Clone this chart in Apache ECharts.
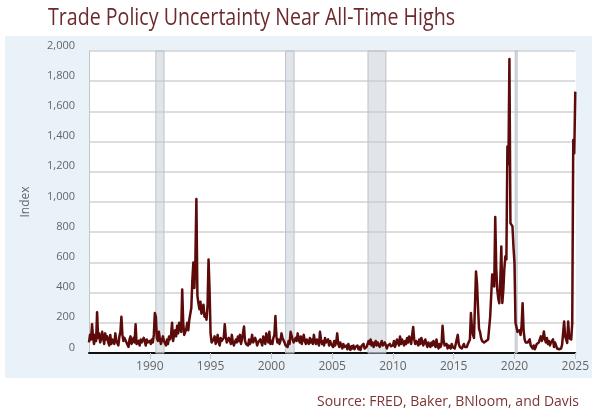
<!DOCTYPE html>
<html>
<head>
<meta charset="utf-8">
<script src="https://cdn.jsdelivr.net/npm/echarts@6/dist/echarts.min.js"></script>
<style>
html,body{margin:0;padding:0;background:#fff;}
#chart{width:592px;height:412px;}
</style>
</head>
<body>
<div id="chart"></div>
<script>
// Monthly Trade Policy Uncertainty index, starting January 1985
const tpu1985to1989 = [
  70,120,90,190,100,60,120,80,270,100,130,70,
  90,140,100,60,130,90,110,70,50,120,60,90,
  100,60,130,80,90,50,110,140,240,120,80,100,
  90,70,60,40,90,110,60,80,100,70,190,60,
  60,80,50,90,70,60,100,80,50,90,70,60
];
const tpu1990to1994 = [
  80,60,90,70,120,265,240,100,80,140,90,60,
  60,110,80,70,50,90,60,110,90,120,200,80,
  120,150,110,180,130,200,160,140,420,200,120,140,
  160,200,150,220,260,300,480,600,430,610,1020,380,
  330,290,340,260,300,320,240,260,220,310,620,420
];
const tpu1995to1999 = [
  130,70,60,90,110,60,80,120,70,50,100,80,
  90,100,190,110,70,60,100,80,60,120,70,50,
  60,90,70,110,80,120,60,90,100,175,80,60,
  70,50,90,60,80,120,70,60,100,80,50,70,
  60,90,70,50,110,80,60,130,90,70,140,60
];
const tpu2000to2004 = [
  80,60,100,120,245,110,70,90,60,80,130,100,
  90,70,50,60,40,80,60,140,130,90,70,60,
  100,80,130,90,70,110,60,90,120,80,60,90,
  80,60,100,70,90,60,120,80,60,90,70,50,
  140,90,60,80,50,100,70,60,90,50,80,60
];
const tpu2005to2009 = [
  60,40,80,50,70,130,60,40,70,50,30,60,
  40,30,50,25,60,35,20,45,30,50,25,40,
  30,50,25,40,20,45,35,60,30,25,40,30,
  80,60,90,50,70,40,60,80,50,70,60,40,
  60,80,50,40,70,60,30,50,40,60,45,50
];
const tpu2010to2014 = [
  50,80,40,60,90,70,50,110,60,90,70,50,
  80,60,100,70,110,90,60,120,172,90,60,80,
  70,50,90,60,100,80,50,70,90,60,40,70,
  60,40,70,50,80,60,40,90,50,30,60,40,
  60,180,90,50,40,60,30,50,40,30,60,40
];
const tpu2015to2019 = [
  40,30,60,50,120,60,40,50,30,45,60,40,
  50,40,60,70,90,265,170,120,100,90,540,460,
  300,160,140,100,80,90,70,60,80,70,90,80,
  240,250,520,470,440,900,560,420,360,330,480,705,
  331,420,560,640,620,1367,1250,1947,860,850,838,700
];
const tpu2020to2025 = [
  595,200,170,140,130,150,120,180,330,150,90,70,
  80,70,60,90,50,40,30,50,25,40,60,70,
  70,90,110,80,100,143,90,70,100,60,80,50,
  70,60,90,40,70,50,30,20,25,15,30,55,
  55,209,110,90,66,209,100,88,90,198,1410,1323,
  1731
];
const startYear = 1985;
// Recession periods (decimal years)
const recessions = [[1990.5, 1991.17], [2001.17, 2001.87], [2007.95, 2009.42], [2020.06, 2020.22]];
const yTicks = [0, 200, 400, 600, 800, 1000, 1200, 1400, 1600, 1800, 2000];
const titleText = 'Trade Policy Uncertainty Near All-Time Highs';
const sourceText = 'Source: FRED, Baker, BNloom, and Davis';

const monthly = [].concat(tpu1985to1989, tpu1990to1994, tpu1995to1999, tpu2000to2004,
  tpu2005to2009, tpu2010to2014, tpu2015to2019, tpu2020to2025);
const seriesData = monthly.map((v, i) => [startYear + i / 12, v]);

function fitScale(text, font, target) {
  const c = document.createElement('canvas').getContext('2d');
  c.font = font;
  return target / c.measureText(text).width;
}
const titleFont = '23px "Open Sans"';
const titleScale = fitScale(titleText, titleFont, 407);
const srcFont = '15px "Open Sans"';
const srcScale = fitScale(sourceText, srcFont, 262);

const chart = echarts.init(document.getElementById('chart'), null, {renderer: 'canvas'});
chart.setOption({
  animation: false,
  backgroundColor: '#ffffff',
  graphic: [
    {type: 'rect', left: 5, top: 36, shape: {width: 587, height: 342}, style: {fill: '#e9f1f9'}, z: -10, silent: true},
    {type: 'rect', left: 89, top: 51, shape: {width: 487, height: 302}, style: {fill: '#ffffff'}, z: -9, silent: true},
    {type: 'text', x: 48, y: 18, scaleX: titleScale, z: 10,
      style: {text: titleText, font: titleFont, fill: '#6d2a2c', textVerticalAlign: 'middle', textAlign: 'left'}},
    {type: 'text', x: 579, y: 402, scaleX: srcScale, z: 10,
      style: {text: sourceText, font: srcFont, fill: '#7b3535', textVerticalAlign: 'middle', textAlign: 'right'}}
  ],
  grid: {left: 89, right: 16, top: 51, bottom: 59, containLabel: false},
  xAxis: {
    type: 'value', min: 1985, max: 2025, interval: 5,
    axisLine: {show: true, onZero: false, lineStyle: {color: '#111', width: 2}},
    axisTick: {show: true, length: 6, lineStyle: {color: '#c4c8cc', width: 1}},
    axisLabel: {showMinLabel: false, color: '#666', fontSize: 12, fontFamily: 'Open Sans', margin: 8,
      formatter: v => String(v)},
    splitLine: {show: false}
  },
  yAxis: {
    type: 'value', min: 0, max: 2000, interval: 200,
    name: 'Index', nameLocation: 'middle', nameGap: 57,
    nameTextStyle: {color: '#666', fontSize: 12, fontFamily: 'Open Sans'},
    axisLine: {show: true, lineStyle: {color: '#c6c6c6', width: 1}},
    axisTick: {show: false},
    axisLabel: {color: '#666', fontSize: 11, fontFamily: 'Open Sans', margin: 14, verticalAlign: 'bottom',
      formatter: v => yTicks.includes(v) ? v.toLocaleString('en-US') : ''},
    splitLine: {show: true, lineStyle: {color: '#d2d2d2', width: 1.5}}
  },
  series: [{
    type: 'line',
    data: seriesData,
    showSymbol: false,
    symbol: 'none',
    lineStyle: {color: '#5c0a0a', width: 2.5, join: 'round'},
    clip: true,
    markArea: {
      silent: true,
      itemStyle: {color: 'rgba(196,204,214,0.5)', borderColor: '#bcc2c8', borderWidth: 1},
      data: recessions.map(r => [{xAxis: r[0]}, {xAxis: r[1]}])
    }
  }]
});
</script>
</body>
</html>
